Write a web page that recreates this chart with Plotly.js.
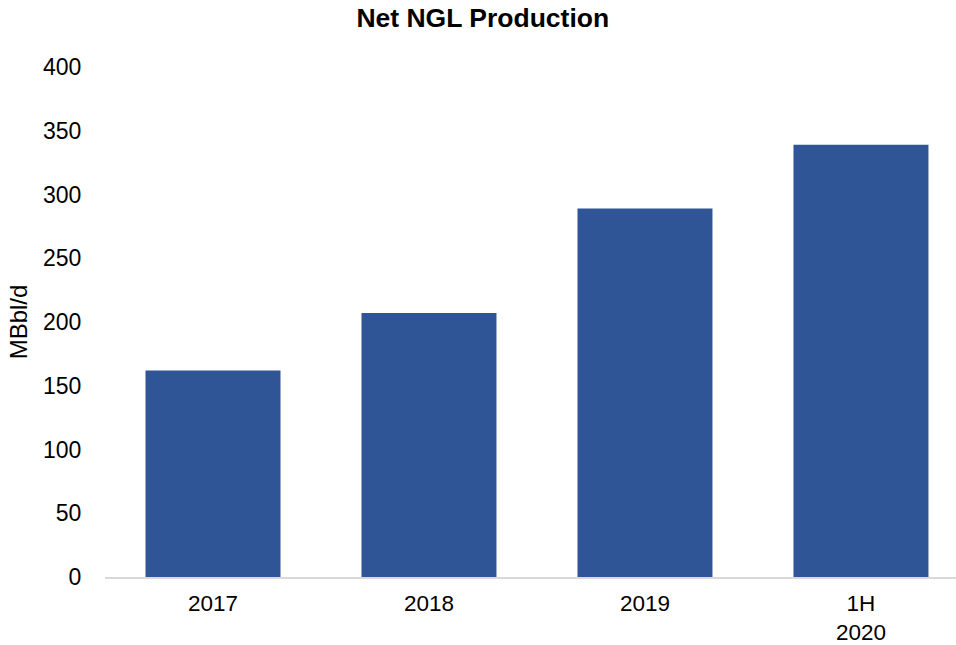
<!DOCTYPE html>
<html>
<head>
<meta charset="utf-8">
<script src="https://cdn.plot.ly/plotly-3.0.1.min.js"></script>
<style>html,body{margin:0;padding:0;background:#fff;}#chart{width:956px;height:645px;}</style>
</head>
<body>
<div id="chart"></div>
<script>
const categories = ["2017", "2018", "2019", "1H<br>2020"];
const production = [162, 207, 289, 339];
const yTicks = [0, 50, 100, 150, 200, 250, 300, 350, 400];

const font = "Liberation Sans, Arial, sans-serif";
Plotly.newPlot("chart", [{
  type: "bar",
  x: categories,
  y: production,
  marker: {color: "#2F5597"},
  hoverinfo: "x+y"
}], {
  width: 956, height: 645,
  margin: {l: 105, r: 0, t: 67, b: 68},
  paper_bgcolor: "#fff", plot_bgcolor: "#fff",
  bargap: 0.375,
  showlegend: false,
  title: {text: "<b>Net NGL Production</b>", font: {family: font, size: 26.5, color: "#000"},
          x: 0.505, xref: "container", xanchor: "center", y: 0.972, yref: "container", yanchor: "middle"},
  xaxis: {
    type: "category", range: [-0.5, 3.44],
    showgrid: false, zeroline: false,
    showline: true, linecolor: "#d9d9d9", linewidth: 1.5,
    ticks: "outside", ticklen: 5, tickcolor: "rgba(0,0,0,0)",
    tickfont: {family: font, size: 22.5, color: "#000"}
  },
  yaxis: {
    range: [0, 400], tickvals: yTicks, ticktext: yTicks.map(String),
    showgrid: false, zeroline: false, showline: false,
    ticks: "outside", ticklen: 18, tickcolor: "rgba(0,0,0,0)",
    tickfont: {family: font, size: 23, color: "#000"},
    title: {text: "MBbl/d", font: {family: font, size: 24, color: "#000"}, standoff: 8}
  }
}, {displayModeBar: false});
</script>
</body>
</html>
